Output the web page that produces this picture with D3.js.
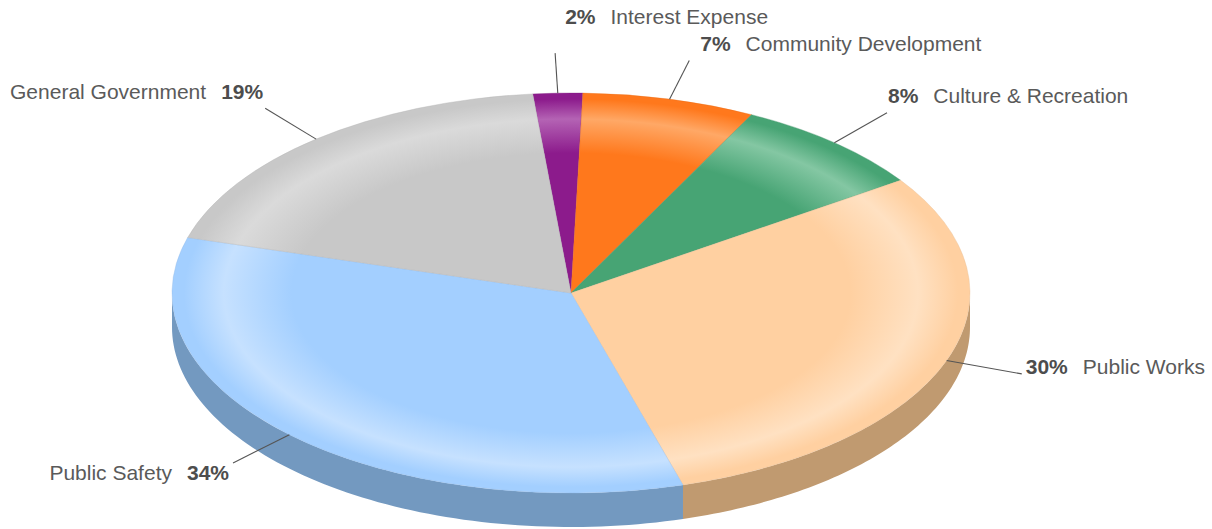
<!DOCTYPE html>
<html>
<head>
<meta charset="utf-8">
<script src="https://cdn.jsdelivr.net/npm/d3@7"></script>
<style>
  html, body { margin: 0; padding: 0; background: #ffffff; }
  svg { display: block; font-family: "Liberation Sans", Arial, sans-serif; }
</style>
</head>
<body>
<svg id="chart" width="1212" height="529"></svg>
<script>
// Expenditure shares by function
const categories = ["Interest Expense", "Community Development", "Culture & Recreation",
                    "Public Works", "Public Safety", "General Government"];
const shares = [2, 7, 8, 30, 34, 19];
const percentLabels = ["2%", "7%", "8%", "30%", "34%", "19%"];

// Slice colours: top face, highlight ring, side wall
const topColors   = ["#8c1b8c", "#ff781c", "#47a474", "#ffd0a1", "#a3cfff", "#c8c8c8"];
const ringColors  = ["#b463b4", "#ffa866", "#84c7a3", "#ffe1c2", "#c6e1ff", "#dadada"];
const sideColors  = ["#5e125e", "#b4561a", "#317352", "#c09a70", "#7399c0", "#8c8c8c"];
// Label placement relative to the end of each leader line [dx, dy, side]
const labelNudge  = [[10, -29, 1], [11, -9, 1], [1, -10, 1], [4, 0, 1], [-4, 17, -1], [-2, -9, -1]];

const svg = d3.select("#chart");
const cx = 571, cy = 293, rx = 399, ry = 200, depth = 34;
const rot = -5.5 * Math.PI / 180;

const pie = d3.pie().sort(null).value(d => d)
  .startAngle(rot).endAngle(rot + 2 * Math.PI);
const arcs = pie(shares);

const pt = (t, k = 1, dy = 0) => [cx + rx * k * Math.sin(t), cy - ry * k * Math.cos(t) + dy];

// Side walls (only the front half faces the viewer)
const sides = svg.append("g");
arcs.forEach((a, i) => {
  const s = Math.max(a.startAngle, Math.PI / 2);
  const e = Math.min(a.endAngle, 3 * Math.PI / 2);
  if (s >= e) return;
  const n = 80;
  const top = d3.range(n + 1).map(j => pt(s + (e - s) * j / n));
  const bottom = top.slice().reverse().map(p => [p[0], p[1] + depth]);
  sides.append("path")
    .attr("d", d3.line()(top.concat(bottom)) + "Z")
    .attr("fill", sideColors[i]);
});

// Gradients for the top faces (elliptical via the scaled group)
const defs = svg.append("defs");
arcs.forEach((a, i) => {
  const g = defs.append("radialGradient")
    .attr("id", "grad" + i)
    .attr("gradientUnits", "userSpaceOnUse")
    .attr("cx", 0).attr("cy", 0).attr("r", rx);
  [[0, topColors[i]], [0.7, topColors[i]], [0.87, ringColors[i]], [0.97, topColors[i]], [1, topColors[i]]]
    .forEach(([o, c]) => g.append("stop").attr("offset", o).attr("stop-color", c));
});

const arc = d3.arc().innerRadius(0).outerRadius(rx);
const topFace = svg.append("g")
  .attr("transform", `translate(${cx},${cy}) scale(1,${ry / rx})`);
topFace.selectAll("path")
  .data(arcs)
  .join("path")
  .attr("d", arc)
  .attr("fill", (d, i) => `url(#grad${i})`)
  .attr("stroke", (d, i) => d3.color(topColors[i]).darker(0.3))
  .attr("stroke-opacity", 0.6)
  .attr("stroke-width", 0.6)
  .attr("vector-effect", "non-scaling-stroke");

// Leader lines and labels
const labels = svg.append("g");
arcs.forEach((a, i) => {
  const mid = (a.startAngle + a.endAngle) / 2;
  const p0 = pt(mid, 1);
  const p1 = pt(mid, 1.2);
  labels.append("line")
    .attr("x1", p0[0]).attr("y1", p0[1])
    .attr("x2", p1[0]).attr("y2", p1[1])
    .attr("stroke", "#555").attr("stroke-width", 1.1);

  const right = labelNudge[i][2] > 0;
  const t = labels.append("text")
    .attr("x", p1[0] + labelNudge[i][0])
    .attr("y", p1[1] + labelNudge[i][1])
    .attr("font-size", 21)
    .attr("fill", "#5a5a5a")
    .attr("text-anchor", right ? "start" : "end");
  if (right) {
    t.append("tspan").attr("font-weight", "bold").attr("fill", "#4d4d4d").text(percentLabels[i]);
    t.append("tspan").attr("dx", 15).text(categories[i]);
  } else {
    t.append("tspan").text(categories[i]);
    t.append("tspan").attr("dx", 15).attr("font-weight", "bold").attr("fill", "#4d4d4d").text(percentLabels[i]);
  }
});
</script>
</body>
</html>
